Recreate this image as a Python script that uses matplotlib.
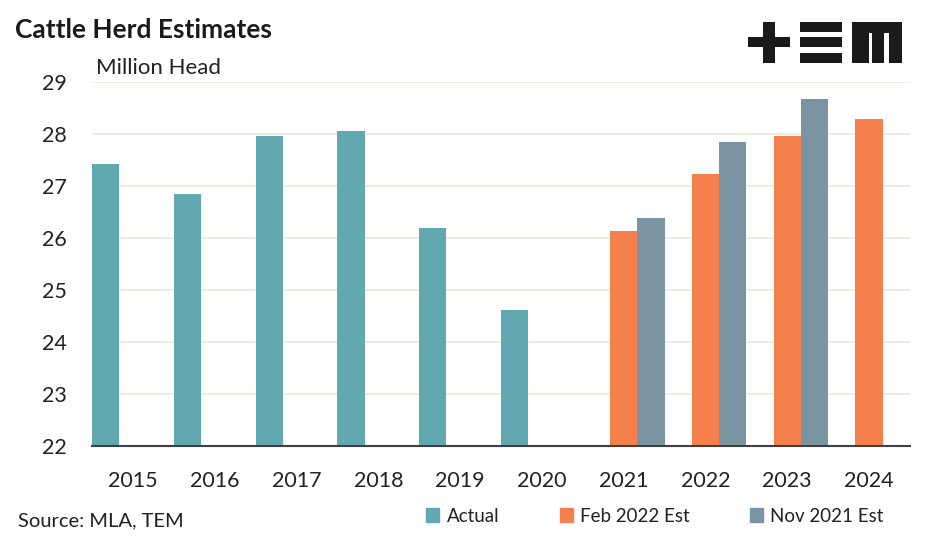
import matplotlib.pyplot as plt
from matplotlib.patches import Rectangle, Patch

plt.rcParams['font.family'] = ['Lato', 'DejaVu Sans']

years = ['2015', '2016', '2017', '2018', '2019', '2020', '2021', '2022', '2023', '2024']
actual_years = [0, 1, 2, 3, 4, 5]
actual = [27.42, 26.85, 27.97, 28.05, 26.20, 24.62]
feb_years = [6, 7, 8, 9]
feb_2022 = [26.13, 27.23, 27.97, 28.28]
nov_years = [6, 7, 8]
nov_2021 = [26.38, 27.85, 28.67]

c_actual = '#62A8B1'
c_feb = '#F5804B'
c_nov = '#7A95A1'

W, H = 947, 539
fig = plt.figure(figsize=(W / 100, H / 100), dpi=100)
ax = fig.add_axes([92 / W, 1 - 446 / H, (910 - 92) / W, (446 - 82) / H])

w = 1 / 3
ax.bar([x - w for x in actual_years], actual, width=w, color=c_actual, zorder=3)
ax.bar(feb_years, feb_2022, width=w, color=c_feb, zorder=3)
ax.bar([x + w for x in nov_years], nov_2021, width=w, color=c_nov, zorder=3)

ax.set_xlim(-0.5, 9.5)
ax.set_ylim(22, 29)
ax.set_yticks(range(22, 30))
ax.set_xticks(range(10))
ax.set_xticklabels(years)
ax.tick_params(axis='both', length=0, labelsize=15.5, colors='#222222')
ax.tick_params(axis='y', pad=18)
ax.tick_params(axis='x', pad=18)
ax.grid(axis='y', color='#EDEDE4', linewidth=1.5, zorder=0)
for s in ['top', 'right', 'left']:
    ax.spines[s].set_visible(False)
ax.spines['bottom'].set_color('#404040')
ax.spines['bottom'].set_linewidth(1.5)
ax.spines['bottom'].set_zorder(4)

fig.text(15 / W, 1 - 30 / H, 'Cattle Herd Estimates', fontsize=19, fontweight='bold',
         color='#1a1a1a', va='center', ha='left')
fig.text(96 / W, 1 - 68 / H, 'Million Head', fontsize=16, color='#222222', va='center', ha='left')
fig.text(18 / W, 1 - 521 / H, 'Source: MLA, TEM', fontsize=14.5, color='#222222', va='center', ha='left')

handles = [Patch(color=c_actual, label='Actual'),
           Patch(color=c_feb, label='Feb 2022 Est'),
           Patch(color=c_nov, label='Nov 2021 Est')]
fig.legend(handles=handles, loc='center', bbox_to_anchor=(655 / W, 1 - 516 / H), ncol=3,
           frameon=False, fontsize=13.5, handlelength=0.7, handleheight=0.7,
           handletextpad=0.4, columnspacing=3.2, labelcolor='#222222')

# logo +EM
logo = '#1a1a1a'
def block(x0, y0, x1, y1):
    fig.add_artist(Rectangle((x0 / W, 1 - y1 / H), (x1 - x0) / W, (y1 - y0) / H,
                             transform=fig.transFigure, color=logo, lw=0))

block(748, 37, 790, 47)
block(763, 22, 775, 63)
block(800, 22, 842, 32)
block(800, 37, 842, 47)
block(800, 53, 842, 63)
block(852, 22, 902, 33)
block(852, 22, 869, 63)
block(872, 22, 884, 63)
block(889, 22, 902, 63)

fig.savefig('out.png', dpi=100)
